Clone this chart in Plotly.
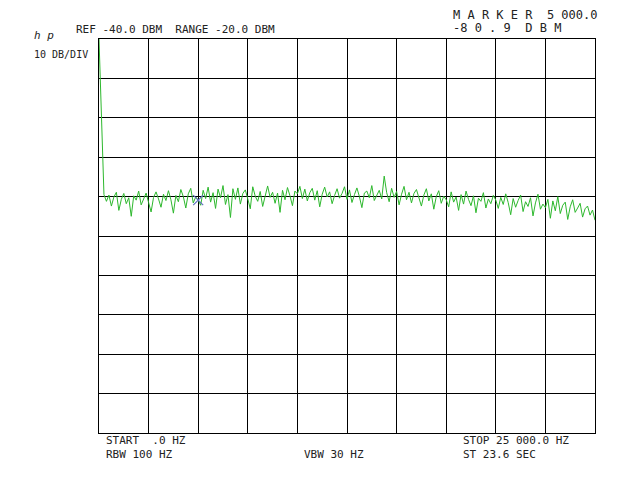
import plotly.graph_objects as go

# trace, 125 Hz per point, 0..25000 Hz
FREQ_STEP = 125
LEVEL_DBM = [
    -40.0, -62.0, -79.5, -81.2, -79.6, -82.4, -80.1, -78.9, -83.5, -80.7,
    -79.2, -81.8, -80.3, -85.0, -79.8, -80.9, -78.6, -82.1, -80.4, -79.1,
    -81.5, -83.9, -80.2, -78.8, -80.6, -82.7, -79.4, -81.0, -78.5, -80.8,
    -84.2, -79.7, -81.3, -78.2, -80.0, -82.9, -79.3, -77.9, -81.6, -80.1,
    -80.9, -82.2, -78.4, -80.5, -77.6, -81.4, -79.0, -83.0, -78.1, -80.3,
    -77.2, -82.0, -79.5, -85.3, -78.0, -80.7, -77.8, -81.9, -79.2, -78.3,
    -80.6, -83.1, -77.5, -79.9, -81.2, -78.7, -82.5, -79.6, -77.3, -80.2,
    -78.9, -81.7, -79.1, -84.0, -78.4, -80.8, -77.7, -79.8, -82.3, -78.6,
    -79.3, -77.4, -80.5, -78.1, -81.1, -79.0, -77.9, -80.9, -78.5, -82.6,
    -79.4, -77.6, -80.1, -78.8, -81.8, -79.7, -78.0, -80.4, -79.2, -77.5,
    -80.7, -78.3, -81.5, -79.5, -77.8, -80.0, -82.8, -79.1, -78.6, -80.3,
    -77.2, -81.0, -79.8, -78.4, -80.6, -74.8, -79.0, -81.3, -77.9, -80.2,
    -78.7, -82.1, -79.4, -77.4, -80.8, -78.9, -81.6, -79.2, -78.2, -80.5,
    -82.4, -79.6, -78.0, -81.1, -79.3, -83.2, -80.0, -78.5, -81.7, -79.9,
    -80.8, -82.6, -78.8, -81.4, -80.1, -83.5, -79.5, -81.9, -78.6, -80.7,
    -82.3, -79.8, -84.1, -80.4, -81.2, -79.0, -82.9, -80.6, -81.8, -79.7,
    -80.9, -83.0, -80.2, -82.0, -79.3, -81.5, -84.6, -80.5, -82.7, -81.0,
    -79.6, -83.8, -81.3, -82.5, -80.3, -84.9, -81.6, -79.4, -83.2, -81.9,
    -82.8, -80.7, -85.5, -81.1, -83.6, -80.0, -84.3, -82.2, -81.4, -85.8,
    -82.6, -80.8, -84.0, -82.9, -81.7, -85.2, -83.1, -82.4, -84.7, -83.4,
    -86.0,
]
FREQ_HZ = [i * FREQ_STEP for i in range(len(LEVEL_DBM))]

MARKER_HZ = [5000]
MARKER_DBM = [-80.9]

MONO = 'DejaVu Sans Mono'

fig = go.Figure()
fig.add_trace(go.Scatter(x=FREQ_HZ, y=LEVEL_DBM, mode='lines',
                         line=dict(color='#2db82d', width=1), showlegend=False))
fig.add_trace(go.Scatter(x=MARKER_HZ, y=MARKER_DBM, mode='markers',
                         marker=dict(symbol='x-thin', size=10,
                                     line=dict(color='#6070c0', width=1.2)),
                         showlegend=False))

axis = dict(showgrid=True, gridcolor='#000000', gridwidth=1, zeroline=False,
            showticklabels=False, ticks='', showline=True, linecolor='#000000',
            mirror=True, linewidth=1)
fig.update_xaxes(range=[0, 25000], dtick=2500, **axis)
fig.update_yaxes(range=[-140, -40], dtick=10, **axis)


def txt(x, y, s, size=11, xanchor='left'):
    fig.add_annotation(x=x, y=y, xref='paper', yref='paper', text=s,
                       showarrow=False, xanchor=xanchor, yanchor='middle',
                       font=dict(family=MONO, size=size, color='#222222'))


txt(-0.135, 1.01, '<i>h p</i>', 11)
txt(-0.05, 1.025, 'REF -40.0 DBM  RANGE -20.0 DBM', 11)
txt(-0.135, 0.96, '10 DB/DIV', 10)
txt(0.71, 1.062, 'M A R K E R  5 000.0', 12)
txt(0.71, 1.028, '-8 0 . 9  D B M', 12)
txt(0.01, -0.02, 'START  .0 HZ', 11)
txt(0.01, -0.055, 'RBW 100 HZ', 11)
txt(0.41, -0.055, 'VBW 30 HZ', 11)
txt(0.73, -0.02, 'STOP 25 000.0 HZ', 11)
txt(0.73, -0.055, 'ST 23.6 SEC', 11)

fig.update_layout(width=640, height=480, paper_bgcolor='white',
                  plot_bgcolor='white',
                  margin=dict(l=91, r=53, t=31, b=55))
fig.write_html('out.html')
